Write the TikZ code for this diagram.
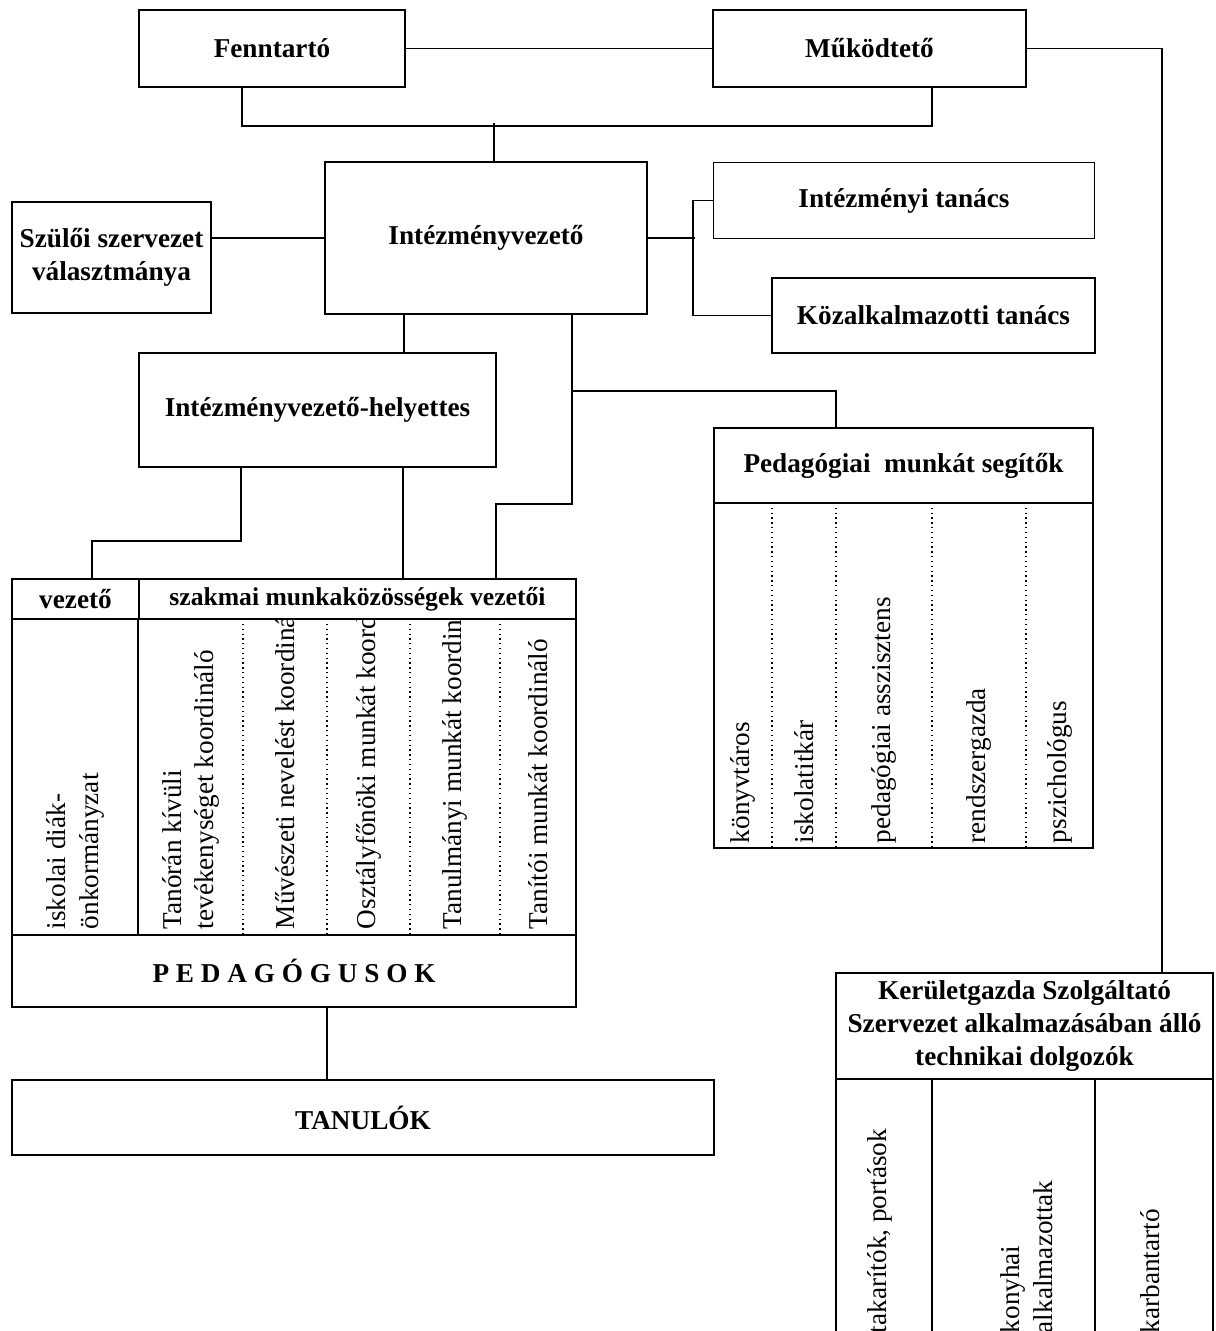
\documentclass[tikz,border=0pt]{standalone}
\usepackage{fontspec}
\setmainfont{Liberation Serif}
\usetikzlibrary{positioning}
\newcommand{\txtsize}{\fontsize{15.5}{18.7}\selectfont}

\begin{document}
\begin{tikzpicture}[x=0.02cm, y=-0.02cm, line width=0.95pt,
  box/.style 2 args={draw, inner sep=0pt, minimum width=#1*0.02cm, minimum height=#2*0.02cm,
    font=\txtsize\bfseries, align=center},
  cell/.style={rotate=90, anchor=west, inner sep=0pt, align=left, font=\txtsize},
  sepline/.style={dotted, line width=0.75pt}]
\clip (0,0) rectangle (1216,1331);

\node[box={266}{77}] (fenn) at (272,48.5) {Fenntartó};
\node[box={313}{77}] (mukod) at (869.5,48.5) {Működtető};
\node[box={322}{152}] (vez) at (486,238) {Intézményvezető};
\node[box={199}{111}] (szulo) at (111.5,257.5) {Szülői szervezet\\választmánya};
\node[box={381}{76}] (itan) at (904,200.5) {Intézményi tanács};
\node[box={323}{75}] (ktan) at (933.5,315.5) {Közalkalmazotti tanács};
\node[box={357}{114}] (helyet) at (317.5,410) {Intézményvezető-helyettes};

\node[box={127}{40}] (vezeto) at (75.5,599) {vezető};
\node[box={437}{40}, font=\fontsize{14.6}{17}\selectfont\bfseries] (szakmai) at (357.5,599) {szakmai munkaközösségek vezetői};
\node[box={564}{316}] (tbody) at (294,777) {};
\node[box={564}{72}] (pedagogus) at (294,971) {P E D A G Ó G U S O K};
\node[box={702}{75}] (tanulok) at (363,1117.5) {TANULÓK};

\node[box={379}{75}] (segito) at (903.5,465.5) {Pedagógiai\ \ munkát segítők};
\node[box={379}{345}] (sbody) at (903.5,675.5) {};

\node[box={377}{106}] (kerulet) at (1024.5,1026) {Kerületgazda Szolgáltató\\Szervezet alkalmazásában álló\\technikai dolgozók};
\node[box={377}{261}] (kbody) at (1024.5,1209.5) {};

\draw (fenn) -- (mukod);
\draw (mukod.east) -- ++(135,0) coordinate (rc) -- (rc |- kerulet.north);
\draw ([xshift=-0.6cm]fenn.south) -- ++(0,38) -| ([xshift=1.25cm]mukod.south);
\draw ([xshift=0.16cm]vez.north) -- ++(0,-38);
\draw (szulo.east |- vez.west) -- (vez.west);
\draw (vez.east) -- ++(47,0);
\draw (itan.west) -- ++(-20,0) |- (ktan.west);
\draw ([xshift=-1.64cm]vez.south) -- ++(0,39);
\draw ([xshift=1.72cm]vez.south) -- ++(0,189) -- ++(-76,0) -- ++(0,76);
\draw ([xshift=1.72cm]vez.south) ++(0,76) -| ([xshift=-1.35cm]segito.north);
\draw ([xshift=-1.53cm]helyet.south) -- ++(0,73) -| ([xshift=0.33cm]vezeto.north);
\draw ([xshift=1.71cm]helyet.south) -- ++(0,112);
\draw ([xshift=0.66cm]pedagogus.south) -- ++(0,73);

\draw (szakmai.south west) -- (tbody.south west -| szakmai.south west);
\foreach \x in {243,327,410,500}
  \draw[sepline] (\x,619) -- (\x,935);
\foreach \x in {772,836,932,1026}
  \draw[sepline] (\x,503) -- (\x,848);
\foreach \x in {932,1095}
  \draw (\x,1079) -- (\x,1340);

\begin{scope}
\clip (12,619) rectangle (576,935);
\node[cell] (diak) at (75.5,930) {iskolai diák-\\önkormányzat};
\node[cell] (tanoran) at (191,930) {Tanórán kívüli\\tevékenységet koordináló};
\node[cell] (muv) at (285,930) {Művészeti nevelést koordináló};
\node[cell] (osztf) at (368.5,930) {Osztályfőnöki munkát koordináló};
\node[cell] (tanulm) at (455,930) {Tanulmányi munkát koordináló};
\node[cell] (tanit) at (538,930) {Tanítói munkát koordináló};
\end{scope}

\node[cell] (konyvt) at (743,844) {könyvtáros};
\node[cell] (titkar) at (804,844) {iskolatitkár};
\node[cell] (asszi) at (884,844) {pedagógiai asszisztens};
\node[cell] (rendsz) at (979,844) {rendszergazda};
\node[cell] (pszich) at (1060,844) {pszichológus};

\node[cell] (takar) at (880,1334) {takarítók, portások};
\node[cell] (konyha) at (1027,1334) {konyhai\\alkalmazottak};
\node[cell] (karb) at (1150,1334) {karbantartó};
\end{tikzpicture}
\end{document}
